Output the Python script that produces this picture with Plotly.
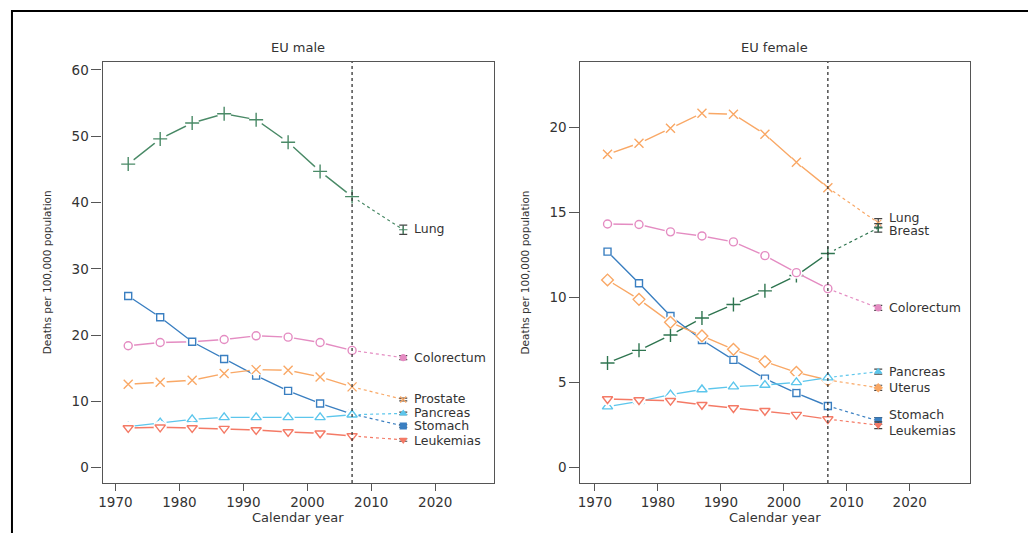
import plotly.graph_objects as go

# ---------------- data ----------------
years = [1972, 1977, 1982, 1987, 1992, 1997, 2002, 2007]
pred_year = 2015

male_names = ["Lung", "Colorectum", "Stomach", "Prostate", "Pancreas", "Leukemias"]
male_lung = [45.8, 49.6, 52.0, 53.4, 52.5, 49.1, 44.7, 40.9]
male_colorectum = [18.4, 18.9, 19.0, 19.35, 19.9, 19.7, 18.9, 17.7]
male_stomach = [25.9, 22.7, 19.0, 16.4, 13.9, 11.6, 9.7, 8.1]
male_prostate = [12.6, 12.9, 13.2, 14.2, 14.8, 14.7, 13.7, 12.2]
male_pancreas = [6.2, 6.8, 7.3, 7.6, 7.6, 7.6, 7.6, 8.0]
male_leukemias = [6.0, 6.1, 6.0, 5.9, 5.7, 5.4, 5.2, 4.8]
male_pred = [35.9, 16.6, 6.3, 10.3, 8.2, 4.2]
male_pred_err = [0.7, 0.3, 0.2, 0.2, 0.2, 0.2]

female_names = ["Lung", "Breast", "Colorectum", "Stomach", "Uterus", "Pancreas", "Leukemias"]
female_lung = [18.43, 19.08, 19.96, 20.85, 20.79, 19.61, 17.96, 16.47]
female_breast = [6.16, 6.9, 7.8, 8.8, 9.6, 10.4, 11.3, 12.6]
female_colorectum = [14.33, 14.3, 13.87, 13.63, 13.28, 12.47, 11.47, 10.53]
female_stomach = [12.71, 10.85, 8.92, 7.51, 6.34, 5.24, 4.39, 3.63]
female_uterus = [11.04, 9.9, 8.55, 7.75, 6.96, 6.24, 5.61, 5.16]
female_pancreas = [3.59, 3.9, 4.3, 4.6, 4.77, 4.86, 5.02, 5.3]
female_leukemias = [4.04, 3.98, 3.94, 3.7, 3.51, 3.35, 3.12, 2.86]
female_pred = [14.4, 14.1, 9.4, 2.75, 4.7, 5.65, 2.5]
female_pred_err = [0.25, 0.25, 0.15, 0.2, 0.15, 0.15, 0.2]

# label placement (data units on y) for the right-hand labels
male_label_y = [36.1, 16.6, 6.35, 10.45, 8.4, 4.15]
female_label_y = [14.72, 13.95, 9.43, 3.12, 4.7, 5.63, 2.2]

x_ticks = [1970, 1980, 1990, 2000, 2010, 2020]
male_y_ticks = [0, 10, 20, 30, 40, 50, 60]
female_y_ticks = [0, 5, 10, 15, 20]

# ---------------- styles ----------------
C_GREEN = "#4a8a67"
C_GREEN_D = "#2f7550"
C_PINK = "#e48cc2"
C_BLUE = "#3a7fc1"
C_ORANGE = "#f9a866"
C_LBLUE = "#5cc6ec"
C_RED = "#f47a66"

sym = {
    "plus": "cross-thin-open",
    "x": "x-thin-open",
    "circle": "circle-open",
    "square": "square-open",
    "diamond": "diamond-open",
    "tri": "triangle-up-open",
    "tdown": "triangle-down-open",
}
small_sym = {
    "plus": "cross-thin-open",
    "x": "x-thin-open",
    "circle": "circle",
    "square": "square",
    "diamond": "diamond",
    "tri": "triangle-up",
    "tdown": "triangle-down",
}

male_series = [
    (male_lung, C_GREEN, "plus", 10),
    (male_colorectum, C_PINK, "circle", 8),
    (male_stomach, C_BLUE, "square", 7),
    (male_prostate, C_ORANGE, "x", 9),
    (male_pancreas, C_LBLUE, "tri", 9),
    (male_leukemias, C_RED, "tdown", 9),
]
female_series = [
    (female_lung, C_ORANGE, "x", 9),
    (female_breast, C_GREEN_D, "plus", 10),
    (female_colorectum, C_PINK, "circle", 8),
    (female_stomach, C_BLUE, "square", 7),
    (female_uterus, C_ORANGE, "diamond", 9),
    (female_pancreas, C_LBLUE, "tri", 9),
    (female_leukemias, C_RED, "tdown", 9),
]

fig = go.Figure()


def add_panel(series, preds, errs, names, label_y, xa, ya):
    for (vals, col, s, size), p, e in zip(series, preds, errs):
        # projection
        fig.add_trace(go.Scatter(x=[years[-1], pred_year], y=[vals[-1], p], mode="lines",
                                 line=dict(color=col, width=1.2, dash="dot"),
                                 xaxis=xa, yaxis=ya, showlegend=False, hoverinfo="skip"))
        # observed line
        fig.add_trace(go.Scatter(x=years, y=vals, mode="lines",
                                 line=dict(color=col, width=1.4),
                                 xaxis=xa, yaxis=ya, showlegend=False, hoverinfo="skip"))
        # white halo (gap around points)
        fig.add_trace(go.Scatter(x=years, y=vals, mode="markers",
                                 marker=dict(symbol="circle", size=size + 4, color="white",
                                             line=dict(width=0)),
                                 xaxis=xa, yaxis=ya, showlegend=False, hoverinfo="skip"))
        # markers
        fig.add_trace(go.Scatter(x=years, y=vals, mode="markers",
                                 marker=dict(symbol=sym[s], size=size, color=col,
                                             line=dict(color=col, width=1.4)),
                                 xaxis=xa, yaxis=ya, showlegend=False))
        # prediction with error bar
        fig.add_trace(go.Scatter(x=[pred_year], y=[p], mode="markers",
                                 marker=dict(symbol=small_sym[s], size=6, color=col,
                                             line=dict(color=col, width=1.2)),
                                 error_y=dict(type="data", array=[e], color="#444444",
                                              thickness=1.2, width=4),
                                 xaxis=xa, yaxis=ya, showlegend=False))
    for n, ly in zip(names, label_y):
        fig.add_annotation(x=pred_year, y=ly, xref=xa, yref=ya, text=n, showarrow=False,
                           xanchor="left", yanchor="middle", xshift=9,
                           font=dict(family="DejaVu Sans", size=12.5, color="#333333"))


add_panel(male_series, male_pred, male_pred_err, male_names, male_label_y, "x", "y")
add_panel(female_series, female_pred, female_pred_err, female_names, female_label_y, "x2", "y2")

W, H = 1028, 533
ydom = [1 - 483 / H, 1 - 62 / H]
axis_common = dict(showline=True, linecolor="#555555", linewidth=1.3, mirror=True,
                   ticks="outside", tickcolor="#555555", showgrid=False, zeroline=False,
                   tickfont=dict(family="DejaVu Sans", size=13.5, color="#333333"))

fig.update_layout(
    width=W, height=H,
    margin=dict(l=0, r=0, t=0, b=0),
    paper_bgcolor="white", plot_bgcolor="white",
    xaxis=dict(domain=[99 / W, 492 / W], range=[1968.0, 2029.2], tickvals=x_ticks,
               ticklen=7, anchor="y", **axis_common),
    yaxis=dict(domain=ydom, range=[-2.3, 61.2], tickvals=male_y_ticks, ticklen=10,
               anchor="x", **axis_common),
    xaxis2=dict(domain=[578.7 / W, 969.3 / W], range=[1967.7, 2029.5], tickvals=x_ticks,
                ticklen=7, anchor="y2", **axis_common),
    yaxis2=dict(domain=ydom, range=[-0.9, 23.86], tickvals=female_y_ticks, ticklen=10,
                anchor="x2", **axis_common),
)

# 2007 reference lines
for xa, ya in [("x", "y"), ("x2", "y2")]:
    fig.add_shape(type="line", x0=2007, x1=2007, y0=0, y1=1, xref=xa, yref=ya + " domain",
                  line=dict(color="#333333", width=1.3, dash="dot"))

# outer frame
fig.add_shape(type="rect", x0=8 / W, x1=1.02, y0=-0.02, y1=1 - 11 / H, xref="paper", yref="paper",
              line=dict(color="black", width=2), fillcolor="rgba(0,0,0,0)")

txt = dict(family="DejaVu Sans", color="#333333")
common_ann = dict(xref="paper", yref="paper", showarrow=False, xanchor="center", yanchor="middle")
# panel titles
fig.add_annotation(x=295.5 / W, y=1 - 47 / H, text="EU male", font=dict(size=13, **txt), **common_ann)
fig.add_annotation(x=774 / W, y=1 - 47 / H, text="EU female", font=dict(size=13, **txt), **common_ann)
# x titles
fig.add_annotation(x=295.5 / W, y=1 - 517 / H, text="Calendar year", font=dict(size=13, **txt), **common_ann)
fig.add_annotation(x=774 / W, y=1 - 517 / H, text="Calendar year", font=dict(size=13, **txt), **common_ann)
# y titles
ymid = 1 - 272.5 / H
fig.add_annotation(x=43 / W, y=ymid, text="Deaths per 100,000 population", textangle=-90,
                   font=dict(size=10.5, **txt), **common_ann)
fig.add_annotation(x=523 / W, y=ymid, text="Deaths per 100,000 population", textangle=-90,
                   font=dict(size=10.5, **txt), **common_ann)

fig.write_html("out.html", config={"displayModeBar": False},
               post_script="document.body.style.margin='0';document.body.style.overflow='hidden';")
